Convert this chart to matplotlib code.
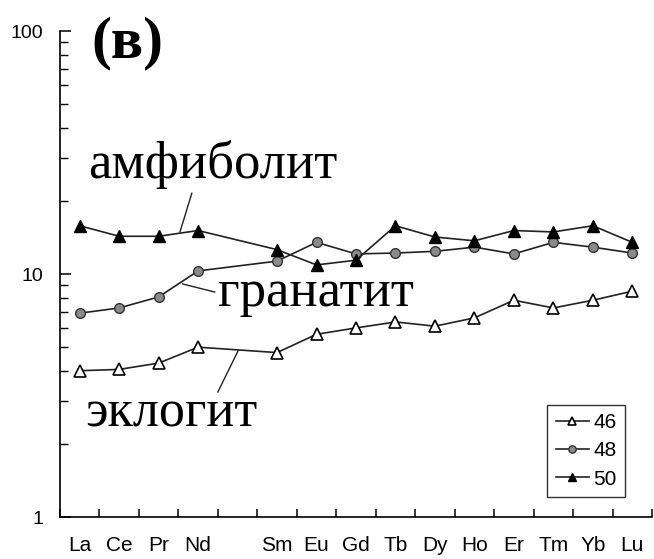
import matplotlib
matplotlib.use("Agg")
import matplotlib.pyplot as plt
import numpy as np
from matplotlib.ticker import FixedLocator, NullFormatter, LogLocator

# REE sequence (Pm kept as an empty slot, label left blank)
elements = ["La", "Ce", "Pr", "Nd", "", "Sm", "Eu", "Gd", "Tb", "Dy", "Ho", "Er", "Tm", "Yb", "Lu"]

# chondrite-normalised values, None for Pm
s46 = [4.0, 4.05, 4.3, 5.0, None, 4.75, 5.65, 6.0, 6.35, 6.1, 6.6, 7.8, 7.25, 7.8, 8.5]
s48 = [6.9, 7.25, 8.05, 10.3, None, 11.3, 13.5, 12.1, 12.2, 12.4, 12.9, 12.1, 13.5, 12.9, 12.2]
s50 = [15.8, 14.3, 14.3, 15.1, None, 12.6, 10.9, 11.4, 15.8, 14.2, 13.7, 15.1, 14.9, 15.8, 13.5]
series_labels = ["46", "48", "50"]

rock_names = ["амфиболит", "гранатит", "эклогит"]


def series_xy(values):
    """Skip the missing Pm slot and return x (slot centres) and y."""
    x = [i + 0.5 for i, v in enumerate(values) if v is not None]
    y = [v for v in values if v is not None]
    return x, y


fig = plt.figure(figsize=(6.54, 5.59), dpi=100)
ax = fig.add_axes([0.0917, 0.0751, 0.9053, 0.8694])

styles = [
    dict(marker="^", mfc="white", mec="black", ms=8, mew=1.2),
    dict(marker="o", mfc="#8a8a8a", mec="#333333", ms=7, mew=1.0),
    dict(marker="^", mfc="black", mec="black", ms=8, mew=1.0),
]
for vals, lab, st in zip([s46, s48, s50], series_labels, styles):
    x, y = series_xy(vals)
    ax.plot(x, y, color="#222222", lw=1.2, label=lab, **st)

ax.set_yscale("log")
ax.set_ylim(1, 100)
ax.set_xlim(0, 15)

ax.spines["top"].set_visible(False)
ax.spines["right"].set_visible(False)
ax.spines["left"].set_linewidth(1.2)
ax.spines["bottom"].set_linewidth(1.2)

# x: tick marks between elements, labels under the points
ax.xaxis.set_major_locator(FixedLocator(np.arange(0, 16)))
ax.xaxis.set_major_formatter(NullFormatter())
ax.xaxis.set_minor_locator(FixedLocator(np.arange(15) + 0.5))
ax.set_xticklabels(elements, minor=True)
ax.tick_params(axis="x", which="major", direction="in", length=6, width=1.1)
ax.tick_params(axis="x", which="minor", length=0, pad=14, labelsize=15)

ax.yaxis.set_minor_locator(LogLocator(base=10, subs=np.arange(2, 10), numticks=20))
ax.yaxis.set_minor_formatter(NullFormatter())
ax.set_yticks([1, 10, 100])
ax.set_yticklabels(["1", "10", "100"])
ax.tick_params(axis="y", which="major", direction="in", length=8, width=1.1, labelsize=14, pad=12)
ax.tick_params(axis="y", which="minor", direction="in", length=6, width=1.0)

for lab in ax.get_xticklabels(minor=True) + ax.get_yticklabels():
    lab.set_fontfamily("Liberation Sans")

serif = "Liberation Serif"
ax.text(0.80, 78, "(в)", fontsize=43, fontweight="bold", family=serif, va="baseline")
ax.text(0.71, 24.8, rock_names[0], fontsize=38, family=serif, va="baseline")
ax.text(4.0, 7.38, rock_names[1], fontsize=38, family=serif, va="baseline")
ax.text(0.63, 2.35, rock_names[2], fontsize=37.5, family=serif, va="baseline")

# leader lines from names to curves
ax.plot([3.34, 3.04], [21.5, 14.9], color="#222222", lw=1.0)
ax.plot([3.11, 3.92], [9.10, 8.43], color="#222222", lw=1.0)
ax.plot([4.0, 4.51], [3.27, 4.82], color="#222222", lw=1.0)

leg = ax.legend(loc="lower right", bbox_to_anchor=(0.954, 0.041), frameon=True,
                fancybox=False, edgecolor="black", handlelength=1.6, handletextpad=0.2,
                borderpad=0.4, labelspacing=0.45, borderaxespad=0, markerscale=0.75,
                prop={"family": "Liberation Sans", "size": 15})
leg.get_frame().set_linewidth(1.0)

fig.savefig("out.png", dpi=100)
